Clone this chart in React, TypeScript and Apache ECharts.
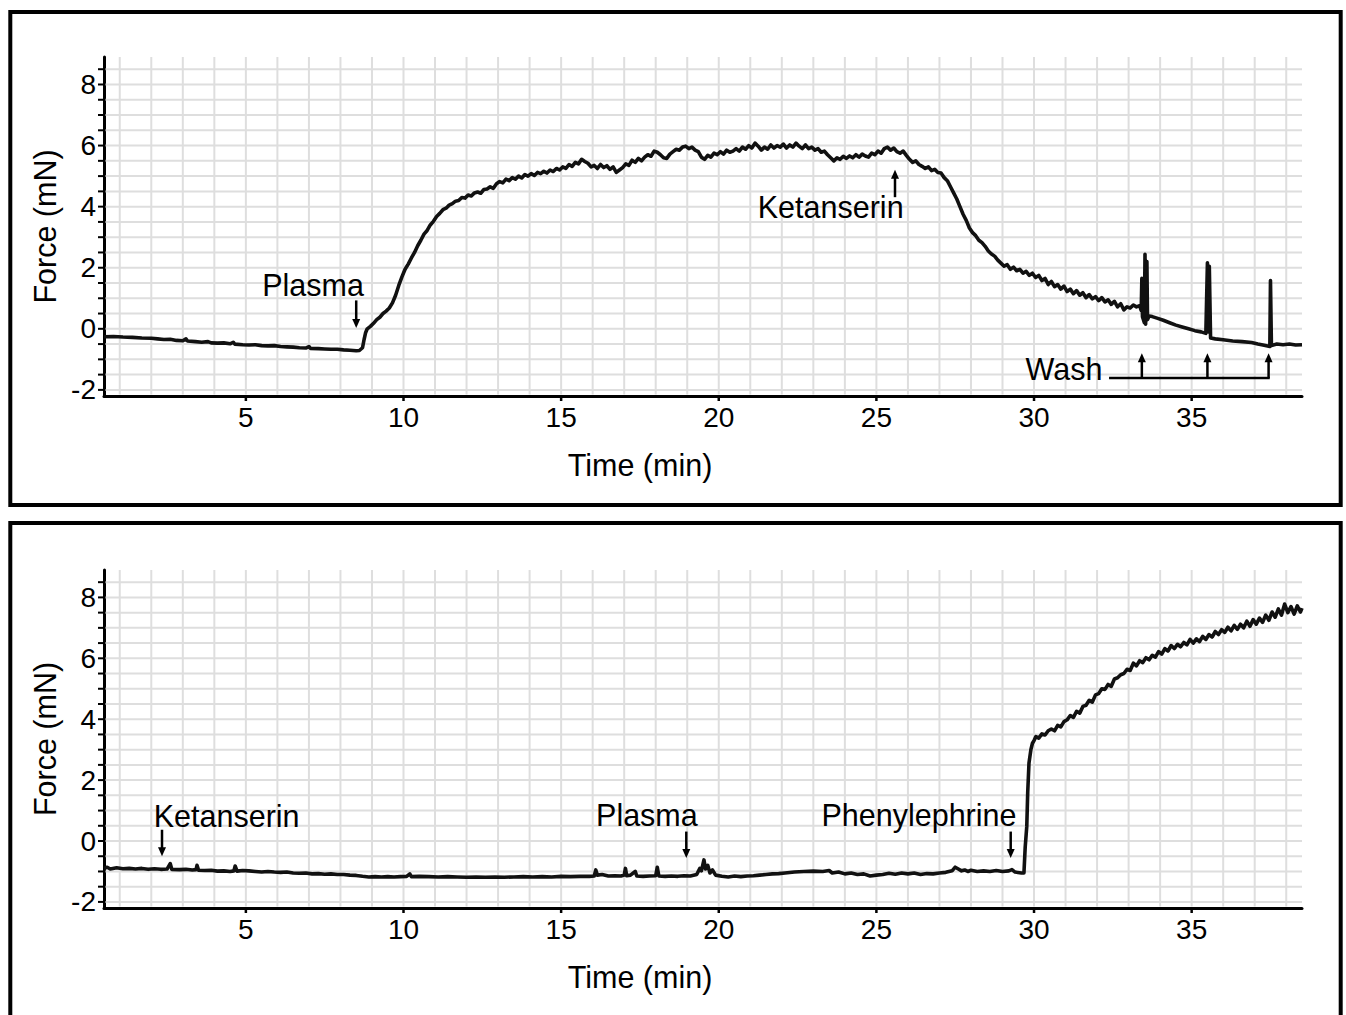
import React, { useEffect, useRef } from "react";
import * as echarts from "echarts";

// ---- axis ranges & tick values ----
const X_MIN = 0.5;
const X_MAX = 38.5;
const Y_MIN = -2.2;
const Y_MAX = 8.9;

const xTickValues = [5, 10, 15, 20, 25, 30, 35];
const yTickValues = [-2, 0, 2, 4, 6, 8];
const xGridValues = [1, 2, 3, 4, 5, 6, 7, 8, 9, 10, 11, 12, 13, 14, 15, 16, 17, 18, 19, 20, 21, 22, 23, 24, 25, 26, 27, 28, 29, 30, 31, 32, 33, 34, 35, 36, 37, 38];
const yGridValues = [-2, -1.5, -1, -0.5, 0, 0.5, 1, 1.5, 2, 2.5, 3, 3.5, 4, 4.5, 5, 5.5, 6, 6.5, 7, 7.5, 8, 8.5];

// ---- traces: [time (min), force (mN)] ----
const topTrace: [number, number][] = [
  [0.5, -0.26], [0.8, -0.25], [1.1, -0.27], [1.4, -0.28], [1.7, -0.3], [2.0, -0.31], [2.2, -0.33], [2.4, -0.35], [2.6, -0.34], [2.8, -0.38],
  [3.0, -0.39], [3.1, -0.33], [3.15, -0.4], [3.4, -0.42], [3.6, -0.44], [3.8, -0.42], [3.9, -0.46], [4.1, -0.47], [4.3, -0.46], [4.5, -0.49],
  [4.6, -0.44], [4.65, -0.5], [4.9, -0.52], [5.1, -0.53], [5.3, -0.52], [5.5, -0.55], [5.7, -0.56], [5.9, -0.55], [6.1, -0.58], [6.3, -0.59],
  [6.5, -0.6], [6.7, -0.62], [6.9, -0.63], [7.0, -0.58], [7.05, -0.64], [7.3, -0.65], [7.5, -0.66], [7.7, -0.67], [7.9, -0.67], [8.1, -0.69],
  [8.3, -0.7], [8.5, -0.72], [8.6, -0.71], [8.7, -0.62], [8.75, -0.35], [8.8, -0.12], [8.85, 0.0], [8.95, 0.08], [9.05, 0.18], [9.15, 0.3],
  [9.25, 0.38], [9.35, 0.5], [9.45, 0.58], [9.55, 0.68], [9.65, 0.85], [9.75, 1.1], [9.85, 1.42], [9.95, 1.7], [10.05, 1.95], [10.15, 2.12],
  [10.25, 2.32], [10.35, 2.5], [10.45, 2.72], [10.55, 2.9], [10.65, 3.1], [10.75, 3.22], [10.85, 3.4], [10.95, 3.52], [11.05, 3.68], [11.15, 3.78],
  [11.25, 3.9], [11.35, 3.95], [11.45, 4.05], [11.55, 4.1], [11.65, 4.18], [11.75, 4.2], [11.85, 4.3], [11.95, 4.28], [12.05, 4.38], [12.15, 4.35],
  [12.25, 4.45], [12.35, 4.48], [12.45, 4.44], [12.55, 4.56], [12.65, 4.58], [12.75, 4.65], [12.85, 4.6], [12.95, 4.75], [13.05, 4.82], [13.15, 4.78],
  [13.25, 4.9], [13.35, 4.85], [13.45, 4.95], [13.55, 4.9], [13.65, 5.0], [13.75, 4.94], [13.85, 5.05], [13.95, 5.0], [14.05, 5.08], [14.15, 5.02],
  [14.25, 5.12], [14.35, 5.08], [14.45, 5.16], [14.55, 5.1], [14.65, 5.2], [14.75, 5.15], [14.85, 5.25], [14.95, 5.2], [15.05, 5.3], [15.15, 5.25],
  [15.25, 5.38], [15.35, 5.32], [15.45, 5.45], [15.55, 5.4], [15.65, 5.55], [15.75, 5.48], [15.85, 5.42], [15.95, 5.3], [16.05, 5.35], [16.15, 5.25],
  [16.25, 5.38], [16.35, 5.28], [16.45, 5.34], [16.55, 5.22], [16.65, 5.3], [16.75, 5.12], [16.85, 5.2], [16.95, 5.28], [17.05, 5.4], [17.15, 5.35],
  [17.25, 5.52], [17.35, 5.45], [17.45, 5.58], [17.55, 5.5], [17.65, 5.62], [17.75, 5.7], [17.85, 5.65], [17.95, 5.82], [18.05, 5.78], [18.15, 5.7],
  [18.25, 5.6], [18.35, 5.58], [18.45, 5.72], [18.55, 5.8], [18.65, 5.88], [18.75, 5.85], [18.85, 5.95], [18.95, 5.98], [19.05, 5.9], [19.15, 5.95],
  [19.25, 5.85], [19.35, 5.8], [19.45, 5.62], [19.55, 5.55], [19.65, 5.68], [19.75, 5.62], [19.85, 5.75], [19.95, 5.7], [20.05, 5.8], [20.15, 5.72],
  [20.25, 5.85], [20.35, 5.78], [20.45, 5.82], [20.55, 5.9], [20.65, 5.82], [20.75, 5.95], [20.85, 5.88], [20.95, 6.0], [21.05, 5.92], [21.15, 6.08],
  [21.25, 5.98], [21.35, 5.85], [21.45, 5.95], [21.55, 5.88], [21.65, 6.02], [21.75, 5.92], [21.85, 6.0], [21.95, 5.95], [22.05, 6.05], [22.15, 5.92],
  [22.25, 6.02], [22.35, 5.95], [22.45, 6.08], [22.55, 5.98], [22.65, 5.9], [22.75, 6.02], [22.85, 5.9], [22.95, 5.95], [23.05, 5.85], [23.15, 5.9],
  [23.25, 5.78], [23.35, 5.82], [23.45, 5.7], [23.55, 5.6], [23.65, 5.5], [23.75, 5.6], [23.85, 5.55], [23.95, 5.65], [24.05, 5.58], [24.15, 5.66],
  [24.25, 5.6], [24.35, 5.7], [24.45, 5.62], [24.55, 5.72], [24.65, 5.66], [24.75, 5.62], [24.85, 5.75], [24.95, 5.7], [25.05, 5.82], [25.15, 5.75],
  [25.25, 5.9], [25.35, 5.95], [25.45, 5.85], [25.55, 5.92], [25.65, 5.8], [25.75, 5.75], [25.85, 5.82], [25.95, 5.68], [26.05, 5.55], [26.15, 5.45],
  [26.25, 5.5], [26.35, 5.38], [26.45, 5.32], [26.55, 5.25], [26.65, 5.3], [26.75, 5.18], [26.85, 5.22], [26.95, 5.12], [27.05, 5.1], [27.15, 4.95],
  [27.25, 4.85], [27.35, 4.65], [27.45, 4.45], [27.55, 4.25], [27.65, 4.0], [27.75, 3.75], [27.85, 3.55], [27.95, 3.3], [28.05, 3.15], [28.15, 3.05],
  [28.25, 2.9], [28.35, 2.82], [28.45, 2.7], [28.55, 2.55], [28.65, 2.45], [28.75, 2.38], [28.85, 2.25], [28.95, 2.15], [29.05, 2.05], [29.15, 2.1],
  [29.25, 1.95], [29.35, 2.02], [29.45, 1.9], [29.55, 1.95], [29.65, 1.82], [29.75, 1.88], [29.85, 1.75], [29.95, 1.82], [30.05, 1.68], [30.15, 1.75],
  [30.25, 1.58], [30.35, 1.65], [30.45, 1.45], [30.55, 1.55], [30.65, 1.38], [30.75, 1.45], [30.85, 1.3], [30.95, 1.4], [31.05, 1.22], [31.15, 1.3],
  [31.25, 1.15], [31.35, 1.25], [31.45, 1.1], [31.55, 1.18], [31.65, 1.02], [31.75, 1.12], [31.85, 0.98], [31.95, 1.05], [32.05, 0.92], [32.15, 1.02],
  [32.25, 0.88], [32.35, 0.95], [32.45, 0.8], [32.55, 0.9], [32.65, 0.72], [32.75, 0.82], [32.85, 0.62], [32.95, 0.72], [33.05, 0.68], [33.15, 0.78],
  [33.25, 0.72], [33.35, 0.76], [33.4, 0.6], [33.42, 1.65], [33.44, 0.4], [33.5, 0.2], [33.52, 2.44], [33.54, 0.15], [33.58, 2.2], [33.6, 0.3],
  [33.65, 0.42], [33.75, 0.4], [33.9, 0.35], [34.1, 0.28], [34.3, 0.2], [34.5, 0.12], [34.7, 0.06], [34.9, 0.0], [35.1, -0.06], [35.3, -0.1],
  [35.45, -0.15], [35.5, 2.16], [35.53, -0.1], [35.56, 2.05], [35.6, -0.3], [35.75, -0.33], [36.0, -0.36], [36.3, -0.4], [36.6, -0.42], [36.9, -0.45],
  [37.1, -0.5], [37.3, -0.54], [37.48, -0.58], [37.5, 1.58], [37.53, -0.55], [37.7, -0.5], [37.9, -0.52], [38.1, -0.5], [38.3, -0.53], [38.5, -0.52],
];

const bottomTrace: [number, number][] = [
  [0.5, -0.9], [0.6, -0.86], [0.7, -0.92], [0.9, -0.88], [1.1, -0.91], [1.3, -0.9], [1.5, -0.92], [1.7, -0.9], [1.9, -0.93], [2.1, -0.91],
  [2.3, -0.93], [2.5, -0.92], [2.6, -0.74], [2.65, -0.93], [2.9, -0.94], [3.1, -0.93], [3.3, -0.95], [3.42, -0.94], [3.45, -0.8], [3.5, -0.96],
  [3.7, -0.97], [3.9, -0.96], [4.1, -0.99], [4.3, -0.98], [4.5, -1.0], [4.62, -0.98], [4.66, -0.82], [4.72, -0.99], [4.9, -0.97], [5.1, -0.98],
  [5.3, -1.0], [5.5, -1.02], [5.7, -1.0], [5.9, -1.02], [6.1, -1.03], [6.3, -1.02], [6.5, -1.05], [6.7, -1.06], [6.9, -1.05], [7.1, -1.08],
  [7.3, -1.07], [7.5, -1.09], [7.7, -1.08], [7.9, -1.1], [8.1, -1.1], [8.3, -1.12], [8.5, -1.13], [8.7, -1.16], [8.9, -1.18], [9.1, -1.17],
  [9.3, -1.18], [9.5, -1.17], [9.7, -1.18], [9.9, -1.17], [10.1, -1.16], [10.2, -1.08], [10.25, -1.17], [10.5, -1.16], [10.8, -1.17], [11.1, -1.18],
  [11.4, -1.17], [11.7, -1.18], [12.0, -1.19], [12.3, -1.18], [12.6, -1.19], [12.9, -1.18], [13.2, -1.19], [13.5, -1.18], [13.8, -1.17], [14.1, -1.18],
  [14.4, -1.17], [14.7, -1.18], [15.0, -1.16], [15.3, -1.17], [15.6, -1.16], [15.9, -1.16], [16.05, -1.15], [16.1, -0.95], [16.15, -1.12], [16.3, -1.1],
  [16.5, -1.15], [16.7, -1.14], [16.9, -1.15], [17.0, -1.12], [17.04, -0.9], [17.08, -1.14], [17.2, -1.12], [17.35, -1.0], [17.4, -1.15], [17.6, -1.16],
  [17.8, -1.15], [18.0, -1.14], [18.05, -0.86], [18.1, -1.15], [18.3, -1.16], [18.5, -1.15], [18.7, -1.16], [18.9, -1.14], [19.1, -1.15], [19.3, -1.1],
  [19.4, -0.9], [19.45, -0.98], [19.53, -0.62], [19.58, -0.92], [19.65, -0.8], [19.72, -1.05], [19.8, -0.95], [19.9, -1.12], [20.1, -1.16], [20.3, -1.18],
  [20.5, -1.15], [20.7, -1.17], [20.9, -1.15], [21.1, -1.14], [21.3, -1.12], [21.5, -1.1], [21.7, -1.08], [21.9, -1.07], [22.1, -1.05], [22.4, -1.02],
  [22.7, -1.0], [23.0, -0.99], [23.3, -1.0], [23.5, -0.97], [23.6, -1.05], [23.8, -1.02], [24.0, -1.08], [24.2, -1.05], [24.4, -1.1], [24.6, -1.08],
  [24.8, -1.15], [25.0, -1.12], [25.2, -1.1], [25.4, -1.06], [25.6, -1.09], [25.8, -1.05], [26.0, -1.08], [26.2, -1.05], [26.4, -1.1], [26.6, -1.07],
  [26.8, -1.08], [27.0, -1.05], [27.2, -1.03], [27.4, -0.98], [27.5, -0.86], [27.6, -0.92], [27.7, -0.98], [27.8, -0.95], [27.9, -1.0], [28.0, -0.96],
  [28.2, -1.0], [28.4, -0.98], [28.6, -1.0], [28.8, -0.97], [29.0, -1.0], [29.2, -0.98], [29.3, -0.94], [29.4, -1.02], [29.6, -1.05], [29.68, -1.05],
  [29.72, -0.2], [29.77, 0.48], [29.8, 1.6], [29.84, 2.56], [29.9, 3.0], [29.95, 3.21], [30.0, 3.3], [30.06, 3.43], [30.15, 3.38], [30.25, 3.52],
  [30.35, 3.48], [30.45, 3.62], [30.55, 3.68], [30.65, 3.62], [30.75, 3.8], [30.85, 3.75], [30.95, 3.92], [31.05, 3.98], [31.15, 4.12], [31.25, 4.06],
  [31.35, 4.26], [31.45, 4.2], [31.55, 4.42], [31.65, 4.46], [31.75, 4.62], [31.85, 4.56], [31.95, 4.8], [32.05, 4.84], [32.15, 5.0], [32.25, 4.98],
  [32.35, 5.14], [32.45, 5.08], [32.55, 5.32], [32.65, 5.36], [32.75, 5.46], [32.85, 5.5], [32.95, 5.64], [33.05, 5.6], [33.15, 5.84], [33.25, 5.75],
  [33.35, 5.92], [33.45, 5.86], [33.55, 6.02], [33.65, 5.95], [33.75, 6.1], [33.85, 6.04], [33.95, 6.22], [34.05, 6.14], [34.15, 6.32], [34.25, 6.24],
  [34.35, 6.42], [34.45, 6.32], [34.55, 6.46], [34.65, 6.38], [34.75, 6.52], [34.85, 6.44], [34.95, 6.62], [35.05, 6.5], [35.15, 6.64], [35.25, 6.55],
  [35.35, 6.72], [35.45, 6.62], [35.55, 6.78], [35.65, 6.7], [35.75, 6.88], [35.85, 6.78], [35.95, 6.94], [36.05, 6.85], [36.15, 7.02], [36.25, 6.9],
  [36.35, 7.08], [36.45, 6.95], [36.55, 7.12], [36.65, 7.0], [36.75, 7.22], [36.85, 7.05], [36.95, 7.27], [37.05, 7.12], [37.15, 7.32], [37.25, 7.18],
  [37.35, 7.42], [37.45, 7.25], [37.55, 7.52], [37.65, 7.35], [37.75, 7.62], [37.85, 7.42], [37.95, 7.78], [38.05, 7.5], [38.15, 7.7], [38.25, 7.45],
  [38.35, 7.72], [38.45, 7.52], [38.5, 7.65],
];

// ---- annotations (data coordinates) ----
const topNotes = [
  { text: "Plasma", tx: 7.13, ty: 1.45, ax: 8.5, from: 0.93, to: 0.03 },
  { text: "Ketanserin", tx: 23.55, ty: 3.98, ax: 25.59, from: 4.31, to: 5.21 },
];
const washText = { text: "Wash", tx: 30.95, ty: -1.3 };
const washTimes = [33.42, 35.5, 37.44];
const washBar = { start: 32.38, y: -1.61, tip: -0.8 };
const bottomNotes = [
  { text: "Ketanserin", tx: 4.39, ty: 0.83, ax: 2.34, from: 0.37, to: -0.5 },
  { text: "Plasma", tx: 17.72, ty: 0.86, ax: 18.97, from: 0.31, to: -0.56 },
  { text: "Phenylephrine", tx: 26.35, ty: 0.86, ax: 29.26, from: 0.31, to: -0.56 },
];

const FONT = '"Liberation Sans", Arial, Helvetica, sans-serif';
const GRID_COLOR = "#dedede";
const INK = "#000";

function arrowEls(api: any, x: number, yFrom: number, yTo: number) {
  const a = api.coord([x, yFrom]);
  const b = api.coord([x, yTo]);
  const dir = b[1] > a[1] ? 1 : -1;
  const headLen = 8;
  const headW = 4;
  return [
    { type: "line", shape: { x1: a[0], y1: a[1], x2: b[0], y2: b[1] - dir * headLen }, style: { stroke: INK, lineWidth: 2.5 } },
    {
      type: "polygon",
      shape: { points: [[b[0], b[1]], [b[0] - headW, b[1] - dir * (headLen + 1)], [b[0] + headW, b[1] - dir * (headLen + 1)]] },
      style: { fill: INK },
    },
  ];
}

function textEl(api: any, text: string, x: number, y: number) {
  const p = api.coord([x, y]);
  return {
    type: "text",
    x: p[0],
    y: p[1],
    style: { text, fill: INK, fontSize: 30.5, fontFamily: FONT, align: "center", verticalAlign: "middle" },
  };
}

function panelSeries(gi: number, trace: [number, number][], notes: any[], withWash: boolean) {
  const list: any[] = [
    {
      type: "custom",
      name: "vgrid" + gi,
      xAxisIndex: gi,
      yAxisIndex: gi,
      silent: true,
      clip: false,
      z: 1,
      data: xGridValues.map((v) => [v, Y_MIN]),
      renderItem: (_p: any, api: any) => {
        const v = api.value(0);
        const a = api.coord([v, Y_MIN]);
        const b = api.coord([v, Y_MAX]);
        return { type: "line", shape: { x1: a[0], y1: a[1] - 1.5, x2: b[0], y2: b[1] }, style: { stroke: GRID_COLOR, lineWidth: 2 } };
      },
    },
    {
      type: "custom",
      name: "hgrid" + gi,
      xAxisIndex: gi,
      yAxisIndex: gi,
      silent: true,
      clip: false,
      z: 1,
      data: yGridValues.map((v) => [X_MIN, v]),
      renderItem: (_p: any, api: any) => {
        const v = api.value(1);
        const a = api.coord([X_MIN, v]);
        const b = api.coord([X_MAX, v]);
        return { type: "line", shape: { x1: a[0] + 1.5, y1: a[1], x2: b[0], y2: b[1] }, style: { stroke: GRID_COLOR, lineWidth: 2 } };
      },
    },
    {
      type: "custom",
      name: "yticks" + gi,
      xAxisIndex: gi,
      yAxisIndex: gi,
      silent: true,
      clip: false,
      z: 3,
      data: yGridValues.map((v) => [X_MIN, v]),
      renderItem: (_p: any, api: any) => {
        const a = api.coord([X_MIN, api.value(1)]);
        return { type: "line", shape: { x1: a[0] - 6, y1: a[1], x2: a[0], y2: a[1] }, style: { stroke: INK, lineWidth: 2 } };
      },
    },
    {
      type: "custom",
      name: "xticks" + gi,
      xAxisIndex: gi,
      yAxisIndex: gi,
      silent: true,
      clip: false,
      z: 3,
      data: xTickValues.map((v) => [v, Y_MIN]),
      renderItem: (_p: any, api: any) => {
        const a = api.coord([api.value(0), Y_MIN]);
        return { type: "line", shape: { x1: a[0], y1: a[1], x2: a[0], y2: a[1] + 5 }, style: { stroke: INK, lineWidth: 2.5 } };
      },
    },
    {
      type: "line",
      name: "trace" + gi,
      xAxisIndex: gi,
      yAxisIndex: gi,
      data: trace,
      showSymbol: false,
      symbol: "none",
      silent: true,
      z: 5,
      lineStyle: { color: "#111", width: 3.6, join: "round" },
    },
    {
      type: "custom",
      name: "notes" + gi,
      xAxisIndex: gi,
      yAxisIndex: gi,
      silent: true,
      clip: false,
      z: 6,
      data: notes.map((n) => [n.ax, n.to, n.from, n.tx, n.ty]),
      renderItem: (p: any, api: any) => {
        const n = notes[p.dataIndex];
        return {
          type: "group",
          children: [...arrowEls(api, n.ax, n.from, n.to), textEl(api, n.text, n.tx, n.ty)],
        };
      },
    },
  ];
  if (withWash) {
    list.push({
      type: "custom",
      name: "wash",
      xAxisIndex: gi,
      yAxisIndex: gi,
      silent: true,
      clip: false,
      z: 6,
      data: [[washBar.start, washBar.y]],
      renderItem: (_p: any, api: any) => {
        const last = washTimes[washTimes.length - 1];
        const a = api.coord([washBar.start, washBar.y]);
        const b = api.coord([last, washBar.y]);
        const children: any[] = [
          { type: "line", shape: { x1: a[0], y1: a[1], x2: b[0] + 1.2, y2: b[1] }, style: { stroke: INK, lineWidth: 2.5 } },
          textEl(api, washText.text, washText.tx, washText.ty),
        ];
        washTimes.forEach((t) => {
          children.push(...arrowEls(api, t, washBar.y, washBar.tip));
        });
        return { type: "group", children };
      },
    });
  }
  return list;
}

function xAxisCfg(gi: number) {
  return {
    type: "value",
    gridIndex: gi,
    min: X_MIN,
    max: X_MAX,
    splitNumber: 8,
    axisLine: { show: true, onZero: false, lineStyle: { color: INK, width: 3 } },
    axisTick: { show: false },
    splitLine: { show: false },
    axisLabel: {
      show: true,
      margin: 7,
      color: INK,
      fontSize: 28,
      fontFamily: FONT,
      showMinLabel: false,
      showMaxLabel: false,
      formatter: (v: number) => (xTickValues.indexOf(v) >= 0 ? String(v) : ""),
    },
    name: "Time (min)",
    nameLocation: "middle",
    nameGap: 53,
    nameTextStyle: { color: INK, fontSize: 30.5, fontFamily: FONT, padding: [0, 126, 0, 0] },
  };
}

function yAxisCfg(gi: number) {
  return {
    type: "value",
    gridIndex: gi,
    min: Y_MIN,
    max: Y_MAX,
    splitNumber: 5,
    axisLine: { show: true, onZero: false, lineStyle: { color: INK, width: 3 } },
    axisTick: { show: false },
    splitLine: { show: false },
    axisLabel: {
      show: true,
      margin: 8,
      color: INK,
      fontSize: 28,
      fontFamily: FONT,
      showMinLabel: false,
      showMaxLabel: false,
      formatter: (v: number) => (yTickValues.indexOf(v) >= 0 ? String(v) : ""),
    },
    name: "Force (mN)",
    nameLocation: "middle",
    nameGap: 41,
    nameTextStyle: { color: INK, fontSize: 30.5, fontFamily: FONT },
  };
}

export default function App() {
  const ref = useRef<HTMLDivElement | null>(null);

  useEffect(() => {
    if (!ref.current) return;
    const chart = echarts.init(ref.current, null, { renderer: "svg" });
    chart.setOption({
      animation: false,
      backgroundColor: "#fff",
      grid: [
        { left: 104, top: 57, width: 1198, height: 339 },
        { left: 104, top: 570, width: 1198, height: 338 },
      ],
      xAxis: [xAxisCfg(0), xAxisCfg(1)],
      yAxis: [yAxisCfg(0), yAxisCfg(1)],
      graphic: [
        { type: "rect", shape: { x: 10.3, y: 12, width: 1330.4, height: 493 }, style: { fill: "none", stroke: INK, lineWidth: 4 }, silent: true },
        { type: "rect", shape: { x: 10.3, y: 523, width: 1330.4, height: 520 }, style: { fill: "none", stroke: INK, lineWidth: 4 }, silent: true },
      ],
      series: [...panelSeries(0, topTrace, topNotes, true), ...panelSeries(1, bottomTrace, bottomNotes, false)],
    });
    return () => chart.dispose();
  }, []);

  return <div ref={ref} style={{ position: "absolute", left: 0, top: 0, width: 1346, height: 1015 }} />;
}
